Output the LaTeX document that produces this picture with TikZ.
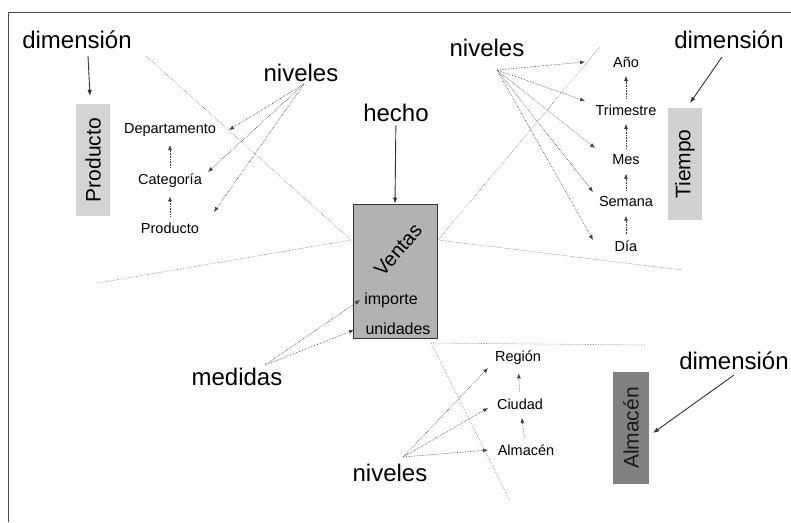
\documentclass[tikz,border=0pt]{standalone}
\usepackage{fontspec}
\setmainfont{Liberation Sans}
\usetikzlibrary{arrows.meta}

\tikzset{
  big/.style={font=\fontsize{24}{28}\selectfont},
  mid/.style={font=\fontsize{16}{19}\selectfont},
  small/.style={font=\fontsize{14.5}{17}\selectfont},
  dimbox/.style={fill=#1, rotate=90, minimum width=112pt, minimum height=34pt,
    inner sep=0pt, font=\fontsize{21}{25}\selectfont},
  ptr/.style={-{Latex[length=5pt,width=4pt]}, densely dotted, black!75, line width=0.6pt},
  lvl/.style={ptr, shorten <=3pt, shorten >=5pt},
  solidptr/.style={-{Latex[length=6pt,width=4.5pt]}, black!80, line width=0.9pt},
  cut/.style={densely dotted, black!50, line width=0.6pt},
}

\begin{document}
\begin{tikzpicture}[x=1pt,y=-1pt]
\useasboundingbox (0,0) rectangle (791,522);
% marco
\draw[black!70, line width=1.2pt] (8.5,522) -- (8.5,12.5) -- (791,12.5);

% hecho
\node[draw=black!80, fill=black!30, line width=0.8pt, minimum width=84pt,
  minimum height=134pt, inner sep=0pt] (ventas) at (395,271) {};
\node[rotate=49, inner sep=0pt, font=\fontsize{20}{24}\selectfont] (vtxt) at (398,250) {Ventas};
\node[mid] (imp) at (391,300) {importe};
\node[mid] (uni) at (398,329) {unidades};
\node[big] (hecho) at (396,113) {hecho};
\draw[solidptr] (hecho) -- (ventas.north);

% lineas de corte
\coordinate (vW) at (351,240);
\coordinate (vE) at (438,240);
\coordinate (vS) at (431,343);
\coordinate (cutP1) at (146,56);
\coordinate (cutP2) at (98,283);
\coordinate (cutT1) at (600,47);
\coordinate (cutT2) at (682,270);
\coordinate (cutA1) at (645,345);
\coordinate (cutA2) at (510,501);
\draw[cut] (cutP1) -- (vW) -- (cutP2);
\draw[cut] (cutT1) -- (vE) -- (cutT2);
\draw[cut] (cutA1) -- (vS) -- (cutA2);

% dimension Producto
\node[big] (dimP) at (77,40) {dimensión};
\node[dimbox=black!17] (prod) at (93,160) {Producto};
\coordinate (dimPo) at (88,56);
\coordinate (dimPi) at (90,96);
\draw[solidptr] (dimPo) -- (dimPi);

\node[small] (dep) at (170,130) {Departamento};
\node[small] (cat) at (170,181) {Categoría};
\node[small] (pro) at (170,228) {Producto};
\draw[lvl] (cat) -- (dep);
\draw[lvl] (pro) -- (cat);

\node[big] (nivP) at (301,73) {niveles};
\coordinate (nivPo) at (304,84);
\coordinate (toDep) at (229,130);
\coordinate (toCat) at (208,172);
\coordinate (toPro) at (214,212);
\foreach \t in {toDep,toCat,toPro}
  \draw[ptr] (nivPo) -- (\t);

% dimension Tiempo
\node[big] (dimT) at (729,40) {dimensión};
\node[dimbox=black!18] (tiempo) at (685,164) {Tiempo};
\coordinate (dimTo) at (722,57);
\coordinate (dimTi) at (690,103);
\draw[solidptr] (dimTo) -- (dimTi);

\node[small] (anio) at (626,62) {Año};
\node[small] (tri) at (626,110) {Trimestre};
\node[small] (mes) at (626,160) {Mes};
\node[small] (sem) at (626,202) {Semana};
\node[small] (dia) at (626,246) {Día};
\draw[lvl] (tri) -- (anio);
\draw[lvl] (mes) -- (tri);
\draw[lvl] (sem) -- (mes);
\draw[lvl] (dia) -- (sem);

\node[big] (nivT) at (487,48) {niveles};
\coordinate (nivTo) at (497,70);
\coordinate (toAnio) at (585,62);
\coordinate (toTri) at (585,101);
\coordinate (toMes) at (595,148);
\coordinate (toSem) at (593,192);
\coordinate (toDia) at (593,240);
\foreach \t in {toAnio,toTri,toMes,toSem,toDia}
  \draw[ptr] (nivTo) -- (\t);

% medidas
\node[big] (med) at (237,377) {medidas};
\coordinate (medo) at (265,365);
\coordinate (toImp) at (360,300);
\coordinate (toUni) at (354,330);
\draw[ptr] (medo) -- (toImp);
\draw[ptr] (medo) -- (toUni);

% dimension Almacen
\node[big] (dimA) at (734,361) {dimensión};
\node[dimbox=black!50, text=black!90, minimum height=36pt] (alm) at (631,428) {Almacén};
\coordinate (dimAo) at (734,375);
\coordinate (dimAi) at (653,433);
\draw[solidptr] (dimAo) -- (dimAi);

\node[small] (reg) at (518,358) {Región};
\node[small] (ciu) at (520,404) {Ciudad};
\node[small] (almn) at (526,450) {Almacén};
\draw[lvl] (ciu) -- (reg);
\draw[lvl] (almn) -- (ciu);

\node[big] (nivA) at (390,473) {niveles};
\coordinate (nivAo) at (403,457);
\coordinate (toReg) at (488,368);
\coordinate (toCiu) at (488,408);
\coordinate (toAlm) at (488,450);
\foreach \t in {toReg,toCiu,toAlm}
  \draw[ptr] (nivAo) -- (\t);

\end{tikzpicture}
\end{document}
